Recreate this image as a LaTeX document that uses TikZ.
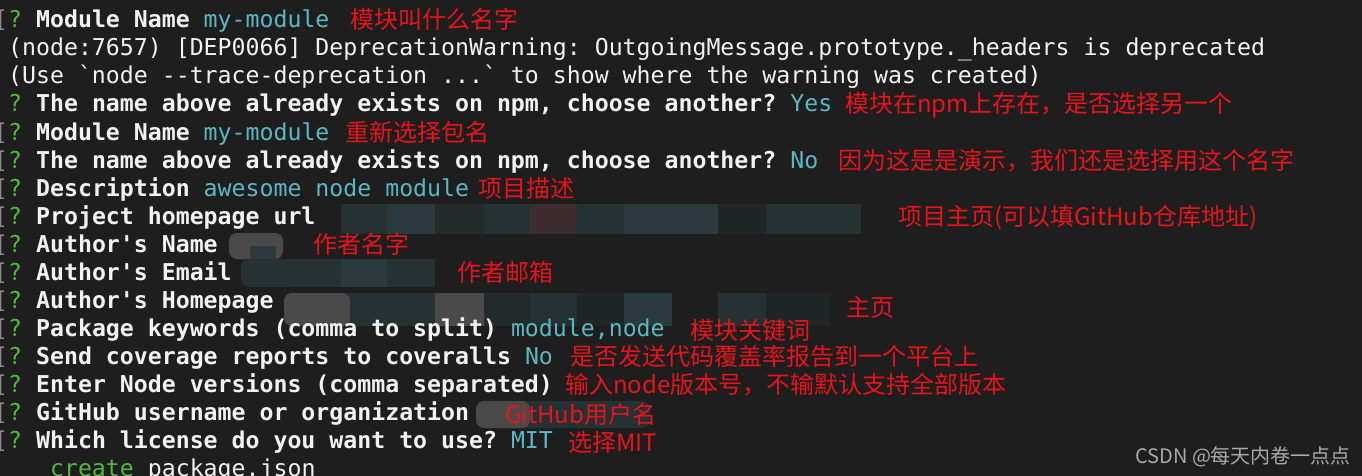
\documentclass[tikz,border=0pt]{standalone}
\usepackage{fontspec}
\usepackage{tikz}
\newfontfamily\termfont{DejaVu Sans Mono}
\newfontfamily\cnfont{Noto Sans CJK SC}
\definecolor{bg}{HTML}{1E1E1E}
\definecolor{termwhite}{HTML}{F2F2F2}
\definecolor{qgreen}{HTML}{55B83E}
\definecolor{anscol}{HTML}{5AB8C4}
\definecolor{notered}{HTML}{E8141C}
\definecolor{brkgray}{HTML}{8A8A8A}
\definecolor{wmgray}{HTML}{A9A9A9}
\definecolor{mA}{HTML}{263134}
\definecolor{mB}{HTML}{2B3A3E}
\definecolor{mC}{HTML}{232A2A}
\definecolor{mD}{HTML}{3B2D30}
\definecolor{mE}{HTML}{4A4A4A}
\definecolor{mF}{HTML}{202626}
\newcommand{\qm}{{\color{qgreen}?}}
\newcommand{\ans}[1]{{\color{anscol}#1}}
\frenchspacing

\begin{document}
\begin{tikzpicture}[x=1pt,y=-1pt,
  line/.style={anchor=base west,inner sep=0pt,text=termwhite,font=\termfont\fontsize{23.2}{28}\selectfont},
  brk/.style={line,text=brkgray},
  note/.style={anchor=base west,inner sep=0pt,text=notered,font=\cnfont\fontsize{24}{28}\selectfont}]
\useasboundingbox (0,0) rectangle (1362,476);
\clip (0,0) rectangle (1362,476);
\fill[bg] (0,0) rectangle (1362,476);

% pixelated blur over private entries
\foreach \xa/\xb/\c in {341/387/mA,387/435/mB,435/484/mC,484/530/mA,530/577/mD,577/624/mA,624/718/mB,718/766/mF,766/861/mA}
  \fill[\c] (\xa,204) rectangle (\xb,234);
\fill[mE,rounded corners=8] (229,233) rectangle (283,259);
\fill[mB] (250,246) rectangle (276,259);
\fill[mA,rounded corners=8] (241,259) rectangle (300,287);
\fill[mB] (341,259) rectangle (387,287);
\fill[mA] (387,259) rectangle (435,287);
\fill[mA] (290,259) rectangle (341,287);
\foreach \xa/\xb/\c in {341/435/mA,435/484/mE,484/530/mC,530/577/mA,577/624/mF,624/672/mB,718/766/mA,766/830/mF}
  \fill[\c] (\xa,293) rectangle (\xb,326);
\fill[mE,rounded corners=8] (284,293) rectangle (350,326);
\fill[mA,rounded corners=8] (476,401) rectangle (650,428);
\fill[mE,rounded corners=8] (476,401) rectangle (530,428);

% prompt brackets
\foreach \k in {0,4,5,...,15}
  \node[brk] (br\k) at (-6,{28+28*\k}) {[};

% terminal lines
\node[line] (l0) at (8,28) {\qm\ \textbf{Module Name} \ans{my-module}};
\node[line] (l1) at (8,56) {(node:7657) [DEP0066] DeprecationWarning: OutgoingMessage.prototype.\_headers is deprecated};
\node[line] (l2) at (8,84) {(Use `node --trace-deprecation ...` to show where the warning was created)};
\node[line] (l3) at (8,112) {\qm\ \textbf{The name above already exists on npm, choose another?} \ans{Yes}};
\node[line] (l4) at (8,140) {\qm\ \textbf{Module Name} \ans{my-module}};
\node[line] (l5) at (8,168) {\qm\ \textbf{The name above already exists on npm, choose another?} \ans{No}};
\node[line] (l6) at (8,196) {\qm\ \textbf{Description} \ans{awesome node module}};
\node[line] (l7) at (8,224) {\qm\ \textbf{Project homepage url}};
\node[line] (l8) at (8,252) {\qm\ \textbf{Author's Name}};
\node[line] (l9) at (8,280) {\qm\ \textbf{Author's Email}};
\node[line] (l10) at (8,308) {\qm\ \textbf{Author's Homepage}};
\node[line] (l11) at (8,336) {\qm\ \textbf{Package keywords (comma to split)} \ans{module,node}};
\node[line] (l12) at (8,364) {\qm\ \textbf{Send coverage reports to coveralls} \ans{No}};
\node[line] (l13) at (8,392) {\qm\ \textbf{Enter Node versions (comma separated)}};
\node[line] (l14) at (8,420) {\qm\ \textbf{GitHub username or organization}};
\node[line] (l15) at (8,448) {\qm\ \textbf{Which license do you want to use?} \ans{MIT}};
\node[line] (l16) at (49.9,476) {{\color{qgreen}create} package.json};

% red notes
\node[note] (n0) at (350,29) {模块叫什么名字};
\node[note] (n3) at (845,113) {模块在npm上存在，是否选择另一个};
\node[note] (n4) at (345,142) {重新选择包名};
\node[note] (n5) at (838,169) {因为这是是演示，我们还是选择用这个名字};
\node[note] (n6) at (478,197) {项目描述};
\node[note] (n7) at (898,225) {项目主页(可以填GitHub仓库地址)};
\node[note] (n8) at (313,253) {作者名字};
\node[note] (n9) at (457,281) {作者邮箱};
\node[note] (n10) at (846,316) {主页};
\node[note] (n11) at (690,339) {模块关键词};
\node[note] (n12) at (570,365) {是否发送代码覆盖率报告到一个平台上};
\node[note] (n13) at (565,393) {输入node版本号，不输默认支持全部版本};
\node[note] (n14) at (505,423) {GitHub用户名};
\node[note] (n15) at (568,451) {选择MIT};

\node[anchor=base west,inner sep=0pt,text=wmgray,font=\cnfont\fontsize{20}{24}\selectfont] (wm) at (1135,463) {CSDN @每天内卷一点点};
\end{tikzpicture}
\end{document}
